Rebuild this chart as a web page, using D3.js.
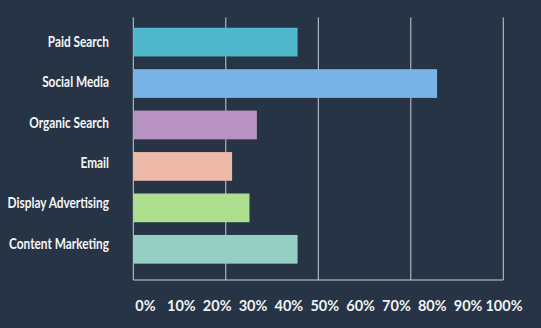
<!DOCTYPE html>
<html>
<head>
<meta charset="utf-8">
<script src="https://cdn.jsdelivr.net/npm/d3@7"></script>
<style>
  html, body { margin: 0; padding: 0; background: #263445; }
  svg { display: block; }
</style>
</head>
<body>
<svg id="chart" width="541" height="328"></svg>
<script>
const categories = ["Paid Search", "Social Media", "Organic Search", "Email", "Display Advertising", "Content Marketing"];
const values = [44.4, 82.1, 33.4, 26.7, 31.4, 44.4];
const colors = ["#4fb8cc", "#7ab3e6", "#b893c2", "#edb9a8", "#addf8e", "#95cfc4"];
const gridValues = [0, 25, 50, 75, 100];
const tickValues = [0, 10, 20, 30, 40, 50, 60, 70, 80, 90, 100];

const svg = d3.select("#chart");
svg.append("rect").attr("width", 541).attr("height", 328).attr("fill", "#263445");

const x = d3.scaleLinear().domain([0, 100]).range([133.3, 503.3]);
const xLabel = d3.scaleLinear().domain([0, 100]).range([145.5, 504]);
const y = d3.scaleBand().domain(categories).range([21.4, 270]).paddingInner(0.307).paddingOuter(0.153);
const yLabel = d3.scalePoint().domain(categories).range([41.2, 243.3]);

const gridTop = 17.5, gridBottom = 280;

// gridlines
svg.append("g").selectAll("line").data(gridValues).join("line")
  .attr("x1", d => x(d)).attr("x2", d => x(d))
  .attr("y1", gridTop).attr("y2", gridBottom)
  .attr("stroke", "#c9ced4").attr("stroke-width", 1);
svg.append("line")
  .attr("x1", x(0)).attr("x2", x(100))
  .attr("y1", gridBottom).attr("y2", gridBottom)
  .attr("stroke", "#c9ced4").attr("stroke-width", 1);

// bars
svg.append("g").selectAll("rect").data(categories).join("rect")
  .attr("x", x(0))
  .attr("y", d => y(d))
  .attr("width", (d, i) => x(values[i]) - x(0))
  .attr("height", y.bandwidth())
  .attr("fill", (d, i) => colors[i]);

// category labels
svg.append("g").selectAll("text").data(categories).join("text")
  .attr("transform", d => `translate(109,${yLabel(d)}) scale(0.79,1)`)
  .attr("text-anchor", "end")
  .attr("dominant-baseline", "central")
  .attr("font-family", "Lato, 'Open Sans', sans-serif")
  .attr("font-weight", "bold")
  .attr("font-size", "15px")
  .attr("fill", "#f4f6f8")
  .text(d => d);

// tick labels
svg.append("g").selectAll("text").data(tickValues).join("text")
  .attr("x", d => xLabel(d))
  .attr("y", 305.5)
  .attr("text-anchor", "middle")
  .attr("dominant-baseline", "central")
  .attr("font-family", "Lato, 'Open Sans', sans-serif")
  .attr("font-weight", "bold")
  .attr("font-size", "14.5px")
  .attr("fill", "#f0f2f5")
  .text(d => d + "%");
</script>
</body>
</html>
